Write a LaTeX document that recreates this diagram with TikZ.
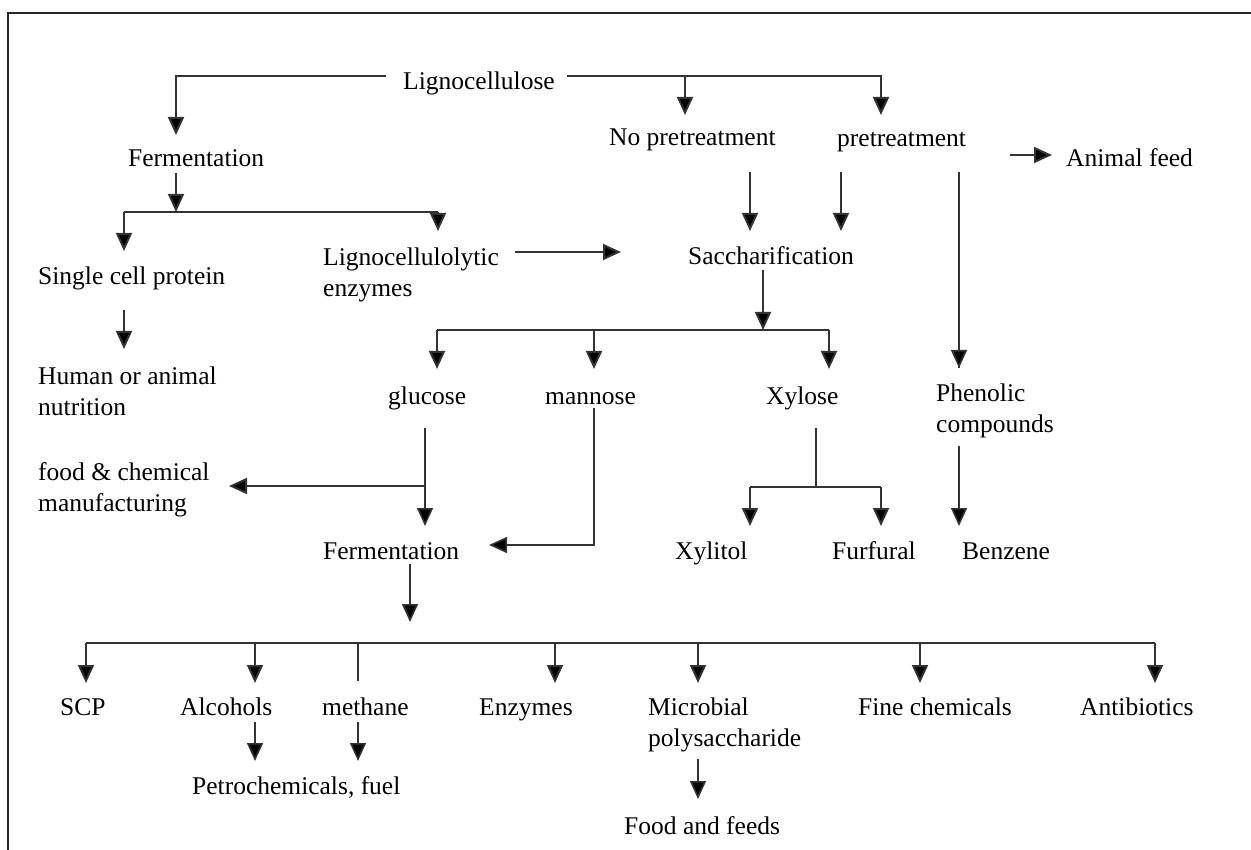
\documentclass[tikz,border=0pt]{standalone}
\usepackage{fontspec}
\setmainfont{Liberation Serif}
\usetikzlibrary{arrows.meta}
\begin{document}
\begin{tikzpicture}[x=1pt,y=-1pt,
  lbl/.style={anchor=west,inner sep=0pt,align=left,yshift=-3pt,font=\fontsize{25.5}{31}\selectfont,text height=18pt,text depth=6pt},
  ln/.style={line width=2pt,draw=black!80},
  arr/.style={ln,-{Triangle[length=18pt,width=16pt,fill=black]}}]
\useasboundingbox (0,0) rectangle (1251,850);
% frame
\draw[line width=2.4pt,black!85] (8,850) -- (8,13) -- (1251,13);
% nodes
\node[lbl] (ligno) at (403,81) {Lignocellulose};
\node[lbl] (ferm1) at (128,158) {Fermentation};
\node[lbl] (nopre) at (609,137) {No pretreatment};
\node[lbl] (pre) at (837,138) {pretreatment};
\node[lbl] (feed) at (1066,158) {Animal feed};
\node[lbl] (scp1) at (38,276) {Single cell protein};
\node[lbl,text height=,text depth=] (lce) at (323,272) {Lignocellulolytic\\enzymes};
\node[lbl] (sacc) at (688,256) {Saccharification};
\node[lbl,text height=,text depth=] (hum) at (38,388) {Human or animal\\nutrition};
\node[lbl] (glu) at (388,395) {glucose};
\node[lbl] (man) at (545,395) {mannose};
\node[lbl] (xyl) at (766,395) {Xylose};
\node[lbl,text height=,text depth=] (phen) at (936,408) {Phenolic\\compounds};
\node[lbl,text height=,text depth=] (fcm) at (38,487) {food \& chemical\\manufacturing};
\node[lbl] (ferm2) at (323,550) {Fermentation};
\node[lbl] (xylitol) at (675,550) {Xylitol};
\node[lbl] (furf) at (832,550) {Furfural};
\node[lbl] (benz) at (962,550) {Benzene};
\node[lbl] (scp) at (60,706) {SCP};
\node[lbl] (alc) at (180,706) {Alcohols};
\node[lbl] (meth) at (322,706) {methane};
\node[lbl] (enz) at (479,706) {Enzymes};
\node[lbl,text height=,text depth=] (micro) at (648,722) {Microbial\\polysaccharide};
\node[lbl] (fine) at (858,706) {Fine chemicals};
\node[lbl] (anti) at (1080,706) {Antibiotics};
\node[lbl] (petro) at (192,785) {Petrochemicals, fuel};
\node[lbl] (ff) at (624,825) {Food and feeds};
% coordinates
\coordinate (ligL) at (386,76);
\coordinate (ferm1In) at (176,135);
\coordinate (ligR) at (567,76);
\coordinate (preIn) at (881,115);
\coordinate (nopreJ) at (685,76);
\coordinate (nopreIn) at (685,115);
\coordinate (ferm1Out) at (176,173);
\coordinate (ferm1J) at (176,212);
\coordinate (barAL) at (124,212);
\coordinate (barAR) at (438,212);
\coordinate (scp1In) at (124,251);
\coordinate (lceIn) at (438,231);
\coordinate (scp1Out) at (124,310);
\coordinate (humIn) at (124,349);
\coordinate (lceOut) at (515,252);
\coordinate (saccInL) at (621,252);
\coordinate (nopreOut) at (750,172);
\coordinate (saccIn1) at (750,231);
\coordinate (preOut) at (841,172);
\coordinate (saccIn2) at (841,231);
\coordinate (preOutF) at (1010,155);
\coordinate (feedIn) at (1052,155);
\coordinate (preOutP) at (959,172);
\coordinate (phenIn) at (959,368);
\coordinate (saccOut) at (763,270);
\coordinate (saccJ) at (763,330);
\coordinate (barBL) at (437,330);
\coordinate (barBM) at (594,330);
\coordinate (barBR) at (829,330);
\coordinate (gluIn) at (437,369);
\coordinate (manIn) at (594,369);
\coordinate (xylIn) at (829,369);
\coordinate (gluOut) at (425,428);
\coordinate (gluJ) at (425,486);
\coordinate (ferm2In) at (425,526);
\coordinate (fcmIn) at (229,486);
\coordinate (manOut) at (594,408);
\coordinate (ferm2InR) at (489,545);
\coordinate (xylOut) at (816,428);
\coordinate (xylJ) at (816,487);
\coordinate (barCL) at (750,487);
\coordinate (barCR) at (881,487);
\coordinate (xylitolIn) at (750,526);
\coordinate (furfIn) at (881,526);
\coordinate (phenOut) at (959,446);
\coordinate (benzIn) at (959,526);
\coordinate (ferm2Out) at (410,564);
\coordinate (ferm2Tip) at (410,622);
\coordinate (barDL) at (86,643);
\coordinate (barDR) at (1155,643);
\coordinate (alcOut) at (255,722);
\coordinate (methOut) at (358,722);
\coordinate (microOut) at (698,759);
\coordinate (ffIn) at (698,799);
% connectors
\draw[arr] (ligL) -| (ferm1In);
\draw[arr] (ligR) -| (preIn);
\draw[arr] (nopreJ) -- (nopreIn);
\draw[arr] (ferm1Out) -- (ferm1J);
\draw[ln] (barAL) -- (barAR);
\draw[arr] (barAL) -- (scp1In);
\draw[arr] (barAR) -- (lceIn);
\draw[arr] (scp1Out) -- (humIn);
\draw[arr] (lceOut) -- (saccInL);
\draw[arr] (nopreOut) -- (saccIn1);
\draw[arr] (preOut) -- (saccIn2);
\draw[arr] (preOutF) -- (feedIn);
\draw[ln,line width=1.6pt] (preOutP) -- (phenIn);
\draw[arr,line width=1.6pt] (preOutP) -- (phenIn);
\draw[arr] (saccOut) -- (saccJ);
\draw[ln] (barBL) -- (barBR);
\draw[arr] (barBL) -- (gluIn);
\draw[arr] (barBM) -- (manIn);
\draw[arr] (barBR) -- (xylIn);
\draw[arr,line width=1.6pt] (gluOut) -- (ferm2In);
\draw[arr] (gluJ) -- (fcmIn);
\draw[arr,line width=1.6pt] (manOut) |- (ferm2InR);
\draw[ln,line width=1.6pt] (xylOut) -- (xylJ);
\draw[ln] (barCL) -- (barCR);
\draw[arr] (barCL) -- (xylitolIn);
\draw[arr] (barCR) -- (furfIn);
\draw[arr,line width=1.6pt] (phenOut) -- (benzIn);
\draw[arr,line width=1.6pt] (ferm2Out) -- (ferm2Tip);
\draw[ln,line width=2.4pt] (barDL) -- (barDR);
\foreach \xx/\nm in {86/scp,255/alc,555/enz,698/micro,920/fine,1155/anti}
  \draw[arr] (\xx,643) -- (\xx,683);
\draw[ln,line width=1.6pt] (358,643) -- (358,681);
\draw[arr,line width=1.6pt] (alcOut) -- (alcOut |- 0,761);
\draw[arr,line width=1.6pt] (methOut) -- (methOut |- 0,761);
\draw[arr,line width=1.6pt] (microOut) -- (ffIn);
\end{tikzpicture}
\end{document}
